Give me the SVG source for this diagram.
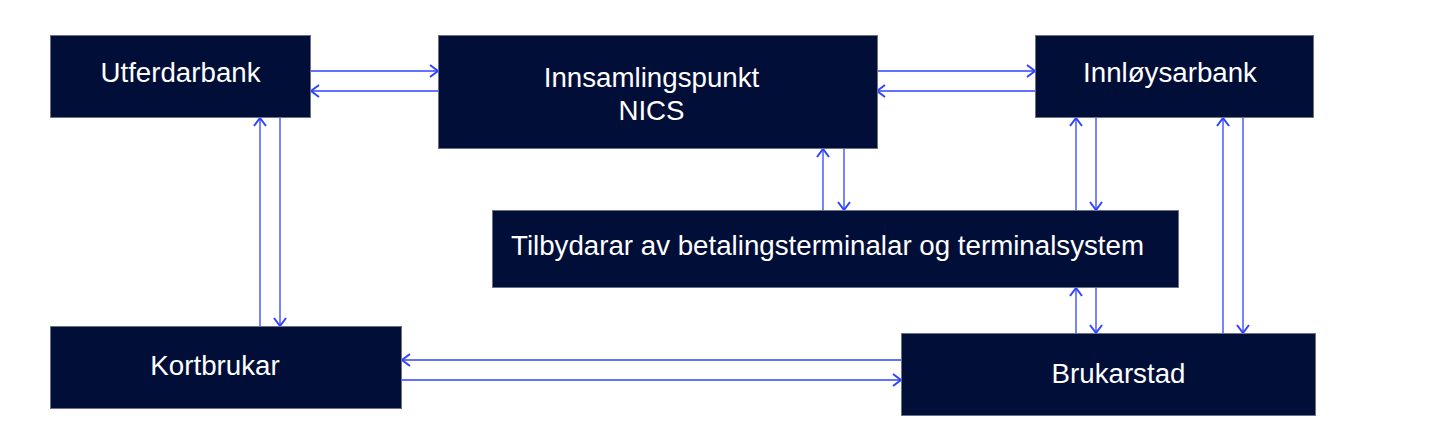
<svg xmlns="http://www.w3.org/2000/svg" width="1445" height="434" viewBox="0 0 1445 434">
<defs>
<style>
.box{fill:#000e38;stroke:#6b7288;stroke-width:1}
.lbl{fill:#ffffff;font-family:"Liberation Sans",Arial,sans-serif;font-size:27.7px;text-anchor:middle}
.c{fill:none;stroke:#2f42ff;stroke-width:1.3}
</style>
<marker id="ah" viewBox="0 0 10 14" refX="9" refY="7" markerWidth="10" markerHeight="14" markerUnits="userSpaceOnUse" orient="auto">
<path d="M1,1 L9,7 L1,13" fill="none" stroke="#2f42ff" stroke-width="2"/>
</marker>
</defs>
<rect width="1445" height="434" fill="#ffffff"/>
<g id="connectors">
<line class="c" x1="311" y1="71" x2="438" y2="71" marker-end="url(#ah)"/>
<line class="c" x1="438" y1="91" x2="311" y2="91" marker-end="url(#ah)"/>
<line class="c" x1="877" y1="71" x2="1035" y2="71" marker-end="url(#ah)"/>
<line class="c" x1="1035" y1="91" x2="877" y2="91" marker-end="url(#ah)"/>
<line class="c" x1="823" y1="210" x2="823" y2="149" marker-end="url(#ah)"/>
<line class="c" x1="844" y1="149" x2="844" y2="210" marker-end="url(#ah)"/>
<line class="c" x1="1076" y1="210" x2="1076" y2="118" marker-end="url(#ah)"/>
<line class="c" x1="1096" y1="118" x2="1096" y2="210" marker-end="url(#ah)"/>
<line class="c" x1="1076" y1="333" x2="1076" y2="288" marker-end="url(#ah)"/>
<line class="c" x1="1096" y1="288" x2="1096" y2="333" marker-end="url(#ah)"/>
<line class="c" x1="1223" y1="333" x2="1223" y2="118" marker-end="url(#ah)"/>
<line class="c" x1="1243" y1="118" x2="1243" y2="333" marker-end="url(#ah)"/>
<line class="c" x1="260" y1="326" x2="260" y2="118" marker-end="url(#ah)"/>
<line class="c" x1="280" y1="118" x2="280" y2="326" marker-end="url(#ah)"/>
<line class="c" x1="901" y1="360" x2="402" y2="360" marker-end="url(#ah)"/>
<line class="c" x1="402" y1="380" x2="901" y2="380" marker-end="url(#ah)"/>
</g>
<g id="utferdarbank">
<rect class="box" x="50.5" y="35.5" width="260" height="82"/>
<text class="lbl" x="180.5" y="82">Utferdarbank</text>
</g>
<g id="innsamlingspunkt">
<rect class="box" x="438.5" y="35.5" width="439" height="113"/>
<text class="lbl" x="651.5" y="87">Innsamlingspunkt</text>
<text class="lbl" x="651.5" y="120">NICS</text>
</g>
<g id="innloysarbank">
<rect class="box" x="1035.5" y="35.5" width="278" height="82"/>
<text class="lbl" x="1170" y="82">Innløysarbank</text>
</g>
<g id="tilbydarar">
<rect class="box" x="492.5" y="210.5" width="686" height="77"/>
<text class="lbl" x="827.5" y="255">Tilbydarar av betalingsterminalar og terminalsystem</text>
</g>
<g id="kortbrukar">
<rect class="box" x="50.5" y="326.5" width="351" height="82"/>
<text class="lbl" x="215" y="375">Kortbrukar</text>
</g>
<g id="brukarstad">
<rect class="box" x="901.5" y="333.5" width="414" height="82"/>
<text class="lbl" x="1118.5" y="383">Brukarstad</text>
</g>
</svg>
